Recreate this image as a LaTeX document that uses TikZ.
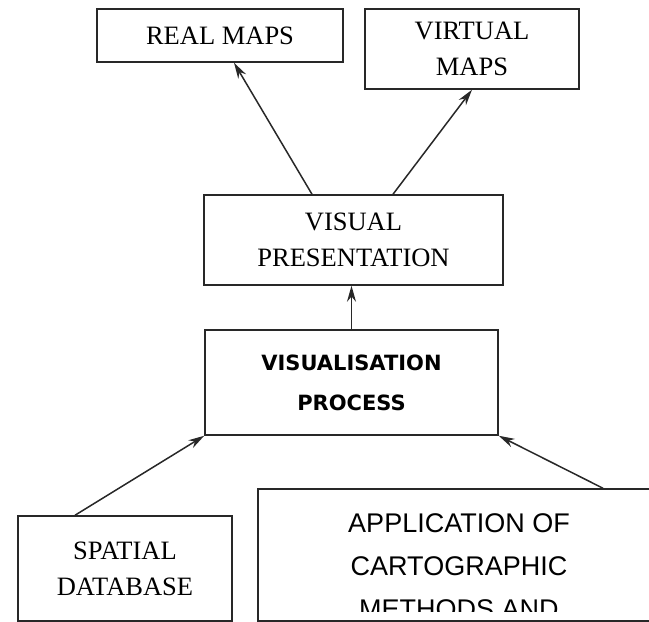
\documentclass[tikz,border=0pt]{standalone}
\usepackage{fontspec}
\setmainfont{Liberation Serif}
\newfontfamily\procfont{DejaVu Sans}
\newfontfamily\appfont{Liberation Sans}
\usetikzlibrary{arrows.meta,calc}
\definecolor{edge}{RGB}{40,40,40}
\tikzset{
 box/.style={draw=edge, line width=1.5pt, align=center, inner sep=0pt,
             font=\fontsize{26.5}{36}\selectfont},
 procbox/.style={box, font=\procfont\bfseries\fontsize{21}{40}\selectfont},
 apptxt/.style={align=center, inner sep=0pt, font=\appfont\fontsize{27}{43}\selectfont},
 flow/.style={-{Stealth[length=16pt,width=9pt]}, line width=1.5pt, draw=edge}
}
\begin{document}
\begin{tikzpicture}[x=1pt,y=-1pt]
\useasboundingbox (0,0) rectangle (649,622);

\node[box, minimum width=246pt, minimum height=53pt] (real) at (220,35.5) {REAL MAPS};
\node[box, minimum width=214pt, minimum height=80pt] (virtual) at (472,49) {VIRTUAL\\MAPS};
\node[box, minimum width=299pt, minimum height=90pt] (visual) at (353.5,240) {VISUAL\\PRESENTATION};
\node[procbox, minimum width=293pt, minimum height=105pt] (process) at (351.5,382.5) {VISUALISATION\\PROCESS};
\node[box, minimum width=214pt, minimum height=105pt] (spatial) at (125,568.5) {SPATIAL\\DATABASE};
\node[box, minimum width=402pt, minimum height=132pt] (app) at (459,555) {};

% the last line of the application text is cut off
\begin{scope}
\clip (app.north west) rectangle (660,611);
\node[apptxt, anchor=north] (apptext) at (459,513) {APPLICATION OF\\CARTOGRAPHIC\\METHODS AND};
\end{scope}

\draw[flow] ([xshift=-41.5pt]visual.north) -- ([xshift=14pt]real.south);
\draw[flow] ([xshift=39.5pt]visual.north) -- (virtual.south);
\draw[flow] (process.north) -- (process.north |- visual.south);
\draw[flow] ([xshift=-50pt]spatial.north) -- (process.south west);
\draw[flow] ([xshift=144pt]app.north) -- (process.south east);

\end{tikzpicture}
\end{document}
